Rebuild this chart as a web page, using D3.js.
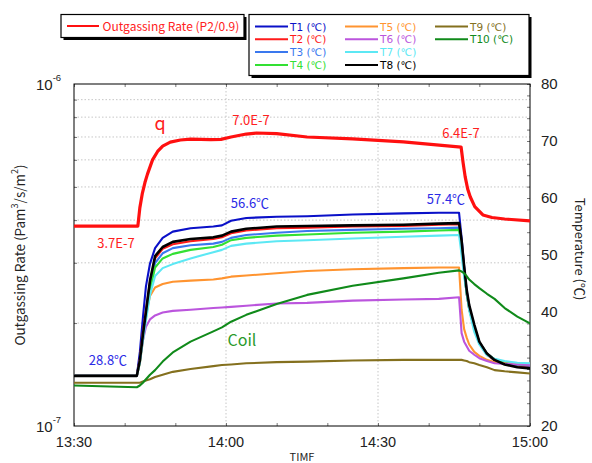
<!DOCTYPE html>
<html><head><meta charset="utf-8">
<script src="https://cdn.jsdelivr.net/npm/d3@7/dist/d3.min.js"></script>
<style>
html,body{margin:0;padding:0;background:#fff;}
svg text{font-family:"Noto Sans CJK JP","Noto Sans",sans-serif;}
svg text.tick{font-family:"Liberation Sans","Noto Sans",sans-serif;}
</style></head>
<body><svg id="c" width="592" height="463"></svg>
<script>
// ---- data (minutes after 13:30) ----
const minutes = [0, 12.4, 13.0, 13.6, 14.2, 15.0, 16.0, 17.5, 19.5, 23, 27.5, 29.2, 31, 34, 40, 46, 55, 65, 72, 76.0, 76.5, 77, 77.5, 78, 79, 80, 81.5, 83, 85, 87.5, 90];
const T1 = [28.8, 28.8, 33.0, 39.0, 44.5, 48.5, 51.2, 53.0, 54.1, 54.7, 55.0, 55.2, 56.0, 56.5, 56.7, 56.8, 57.1, 57.3, 57.4, 57.4, 53.0, 48.0, 43.7, 41.0, 37.5, 34.7, 32.7, 31.7, 31.0, 30.6, 30.4];
const T2 = [28.8, 28.8, 31.8, 36.5, 40.2, 45.3, 49.4, 51.1, 51.9, 52.4, 52.8, 53.1, 53.8, 54.3, 54.7, 54.8, 55.0, 55.1, 55.3, 55.4, 52.0, 47.3, 43.2, 40.5, 37.2, 34.5, 32.5, 31.5, 30.9, 30.5, 30.4];
const T3 = [28.8, 28.8, 31.5, 36.0, 39.5, 44.5, 48.6, 50.3, 51.2, 51.7, 52.0, 52.3, 53.0, 53.5, 53.9, 54.2, 54.4, 54.6, 54.7, 54.8, 51.5, 47.0, 43.2, 40.6, 37.4, 34.6, 32.6, 31.6, 31.0, 30.7, 30.6];
const T4 = [28.8, 28.8, 31.2, 35.5, 39.0, 43.8, 47.8, 49.4, 50.2, 50.9, 51.4, 51.8, 52.6, 53.0, 53.4, 53.6, 53.9, 54.1, 54.3, 54.4, 51.5, 47.0, 43.2, 40.5, 37.3, 34.7, 32.7, 31.7, 31.1, 30.8, 30.7];
const T5 = [28.8, 28.8, 31.0, 35.0, 39.5, 42.8, 44.3, 44.9, 45.3, 45.5, 45.7, 45.9, 46.2, 46.4, 46.8, 47.2, 47.5, 47.7, 47.8, 47.8, 40.4, 37.0, 35.5, 34.3, 33.0, 32.3, 31.6, 31.2, 31.0, 30.9, 30.9];
const T6 = [28.8, 28.8, 31.5, 35.0, 37.4, 38.7, 39.4, 39.9, 40.2, 40.4, 40.7, 40.8, 40.9, 41.1, 41.5, 41.6, 42.0, 42.2, 42.3, 42.6, 36.3, 34.8, 34.0, 33.2, 32.5, 31.9, 31.4, 31.0, 30.9, 30.8, 30.7];
const T7 = [28.8, 28.8, 31.0, 35.0, 38.5, 43.0, 46.3, 47.7, 48.4, 49.4, 50.5, 50.9, 51.6, 52.0, 52.4, 52.6, 52.9, 53.2, 53.4, 53.5, 50.0, 46.2, 43.5, 40.3, 36.5, 34.3, 32.4, 31.8, 31.4, 31.1, 31.0];
const T8 = [28.8, 28.8, 31.5, 36.0, 40.0, 45.5, 49.8, 51.4, 52.3, 52.8, 53.1, 53.4, 54.1, 54.6, 55.0, 55.1, 55.2, 55.3, 55.5, 55.6, 52.5, 48.0, 43.9, 41.2, 37.8, 34.8, 32.7, 31.6, 30.8, 30.3, 30.1];
const T9 = [27.6, 27.6, 27.6, 27.8, 28.0, 28.2, 28.6, 29.0, 29.5, 30.0, 30.5, 30.7, 30.8, 31.0, 31.2, 31.3, 31.5, 31.6, 31.6, 31.6, 31.6, 31.5, 31.4, 31.2, 31.0, 30.7, 30.3, 29.8, 29.6, 29.4, 29.2];
const T10 = [27.1, 26.8, 27.1, 27.6, 28.2, 29.0, 29.8, 31.3, 32.9, 34.8, 36.6, 37.3, 38.3, 39.5, 41.4, 43.0, 44.6, 45.9, 46.9, 47.3, 47.1, 46.8, 46.3, 45.7, 44.9, 44.2, 43.2, 42.3, 40.7, 39.2, 38.0];
const qMinutes = [0, 12.6, 13.0, 13.5, 14.0, 14.5, 15.5, 16.5, 17.5, 19, 21, 23, 27, 29, 31, 34, 36, 40, 46, 55, 65, 76.4, 76.8, 77.2, 77.7, 78.2, 79.1, 80.7, 82.5, 85, 90];
const qRate = [3.84e-7, 3.84e-7, 4.35e-7, 4.8e-7, 5.15e-7, 5.45e-7, 6.0e-7, 6.35e-7, 6.58e-7, 6.76e-7, 6.86e-7, 6.9e-7, 6.88e-7, 6.89e-7, 7.0e-7, 7.14e-7, 7.19e-7, 7.16e-7, 7.0e-7, 6.91e-7, 6.77e-7, 6.54e-7, 5.88e-7, 5.36e-7, 4.93e-7, 4.68e-7, 4.38e-7, 4.14e-7, 4.07e-7, 4.03e-7, 3.98e-7];
const tempNames = ["T1 (℃)","T2 (℃)","T3 (℃)","T4 (℃)","T5 (℃)","T6 (℃)","T7 (℃)","T8 (℃)","T9 (℃)","T10 (℃)"];
const tempColors = ["#0a10c8","#ff1a1a","#3a78ee","#33e033","#ff9430","#bb55dd","#5ce8f4","#000000","#84701e","#108a1a"];
const timeTicks = [0, 30, 60, 90];
const timeLabels = ["13:30","14:00","14:30","15:00"];
const tempTicks = [20, 30, 40, 50, 60, 70, 80];
const series = [T1,T2,T3,T4,T5,T6,T7,T8,T9,T10];

// ---- layout ----
const svg = d3.select("#c");
const L = 74, R = 530, TOP = 84, BOT = 426;
const x = d3.scaleLinear().domain([0, 90]).range([L, R]);
const yL = d3.scaleLog().domain([1e-7, 1e-6]).range([BOT, TOP]);
const yR = d3.scaleLinear().domain([20, 80]).range([BOT, TOP]);

// grid
const minorLog = [2,3,4,5,6,7,8,9].map(d => d * 1e-7);
const grid = svg.append("g").attr("stroke", "#b8b8b8").attr("stroke-width", 0.8).attr("stroke-dasharray", "1.5,2");
grid.selectAll("line.h").data(minorLog).join("line")
  .attr("x1", L).attr("x2", R).attr("y1", d => yL(d)).attr("y2", d => yL(d));
grid.selectAll("line.v").data([30, 60]).join("line")
  .attr("x1", d => x(d)).attr("x2", d => x(d)).attr("y1", TOP).attr("y2", BOT);

// axes (inward ticks)
const minorTime = d3.range(0, 91, 10);
const axB = svg.append("g").attr("transform", `translate(0,${BOT})`)
  .call(d3.axisBottom(x).tickValues(minorTime).tickSize(-3).tickFormat(""));
const axT = svg.append("g").attr("transform", `translate(0,${TOP})`)
  .call(d3.axisTop(x).tickValues(minorTime).tickSize(-3).tickFormat(""));
const axL = svg.append("g").attr("transform", `translate(${L},0)`)
  .call(d3.axisLeft(yL).tickValues(minorLog).tickSize(-3).tickFormat(""));
const axR = svg.append("g").attr("transform", `translate(${R},0)`)
  .call(d3.axisRight(yR).tickValues(d3.range(20, 81, 2)).tickSize(-3).tickFormat(""));
[axB, axT, axL, axR].forEach(a => {
  a.select(".domain").remove();
  a.selectAll("line").attr("stroke", "#555").attr("stroke-width", 0.8);
});
svg.append("rect").attr("x", L).attr("y", TOP).attr("width", R - L).attr("height", BOT - TOP)
  .attr("fill", "none").attr("stroke", "#000").attr("stroke-width", 1);

// tick labels
svg.append("g").selectAll("text").data(timeTicks).join("text").attr("class", "tick")
  .attr("x", d => x(d)).attr("y", 447).attr("text-anchor", "middle")
  .attr("font-size", 14.5).attr("fill", "#222").text((d, i) => timeLabels[i]);
svg.append("g").selectAll("text").data(tempTicks).join("text").attr("class", "tick")
  .attr("x", 541).attr("y", d => yR(d) + 5)
  .attr("font-size", 15).attr("fill", "#222").text(d => d);
[[1e-6, "-6"], [1e-7, "-7"]].forEach(([v, e]) => {
  const t = svg.append("text").attr("class", "tick").attr("x", 36).attr("y", yL(v) + 6)
    .attr("font-size", 15).attr("fill", "#222");
  t.append("tspan").text("10");
  t.append("tspan").attr("dy", -9).attr("font-size", 9.5).text(e);
});

// axis titles
const lt = svg.append("text").attr("transform", "translate(25,255) rotate(-90)")
  .attr("text-anchor", "middle").attr("font-size", 13.5).attr("fill", "#222");
lt.append("tspan").text("Outgassing Rate (Pam");
lt.append("tspan").attr("dy", -7).attr("font-size", 9).text("3");
lt.append("tspan").attr("dy", 7).text("/s/m");
lt.append("tspan").attr("dy", -7).attr("font-size", 9).text("2");
lt.append("tspan").attr("dy", 7).text(")");
svg.append("text").attr("transform", "translate(575,249) rotate(90)")
  .attr("text-anchor", "middle").attr("font-size", 13).attr("fill", "#222").text("Temperature (℃)");
svg.append("text").attr("x", 302).attr("y", 461).attr("text-anchor", "middle")
  .attr("font-size", 11).attr("fill", "#222").text("TIMF");

// lines
const clip = svg.append("clipPath").attr("id", "pc").append("rect")
  .attr("x", L).attr("y", TOP).attr("width", R - L).attr("height", BOT - TOP);
const plot = svg.append("g").attr("clip-path", "url(#pc)");
const tLine = vals => d3.line().x((d, i) => x(minutes[i])).y(d => yR(d))(vals);
series.forEach((vals, k) => {
  plot.append("path").attr("d", tLine(vals)).attr("fill", "none")
    .attr("stroke", tempColors[k]).attr("stroke-width", k === 7 ? 2.6 : 2.1)
    .attr("stroke-linejoin", "round");
});
const qLine = d3.line().x((d, i) => x(qMinutes[i])).y(d => yL(d));
plot.append("path").attr("d", qLine(qRate)).attr("fill", "none")
  .attr("stroke", "#ff1010").attr("stroke-width", 3.2).attr("stroke-linejoin", "round");

// annotations
const ann = [
  {t: "q", x: 160, y: 130, c: "#ff2020", s: 18},
  {t: "7.0E-7", x: 251, y: 125, c: "#ff2020", s: 13},
  {t: "6.4E-7", x: 461, y: 138, c: "#ff2020", s: 13},
  {t: "3.7E-7", x: 116, y: 248, c: "#ff2020", s: 13},
  {t: "56.6℃", x: 250, y: 208, c: "#2a2ae6", s: 13},
  {t: "57.4℃", x: 446, y: 204, c: "#2a2ae6", s: 13},
  {t: "28.8℃", x: 108, y: 365, c: "#2a2ae6", s: 13},
  {t: "Coil", x: 242, y: 346, c: "#2a9a2a", s: 16}
];
svg.append("g").selectAll("text").data(ann).join("text")
  .attr("x", d => d.x).attr("y", d => d.y).attr("text-anchor", "middle")
  .attr("font-size", d => d.s).attr("fill", d => d.c).text(d => d.t);

// legends
function box(x0, y0, w, h) {
  svg.append("rect").attr("x", x0 + 2.5).attr("y", y0 + 2.5).attr("width", w).attr("height", h).attr("fill", "#000");
  svg.append("rect").attr("x", x0).attr("y", y0).attr("width", w).attr("height", h)
    .attr("fill", "#fff").attr("stroke", "#000").attr("stroke-width", 1.2);
}
box(61, 14.5, 183, 23);
svg.append("line").attr("x1", 67).attr("x2", 99).attr("y1", 26).attr("y2", 26)
  .attr("stroke", "#ff1010").attr("stroke-width", 2);
svg.append("text").attr("x", 102.5).attr("y", 30.5).attr("font-size", 12).attr("fill", "#ff2020")
  .text("Outgassing Rate (P2/0.9)");
box(249, 14.5, 280, 61);
const leg = svg.append("g");
tempNames.forEach((n, k) => {
  const col = Math.floor(k / 4), row = k % 4;
  const cx = [255, 345, 435][col];
  const cy = 26.5 + row * 12.8;
  leg.append("line").attr("x1", cx).attr("x2", cx + 33).attr("y1", cy).attr("y2", cy)
    .attr("stroke", tempColors[k]).attr("stroke-width", 2);
  leg.append("text").attr("x", cx + 35).attr("y", cy + 4).attr("font-size", 10.5)
    .style("font-family", "'DejaVu Sans','Noto Sans CJK JP',sans-serif")
    .attr("fill", k === 7 ? "#000" : tempColors[k]).text(n);
});
</script></body></html>
